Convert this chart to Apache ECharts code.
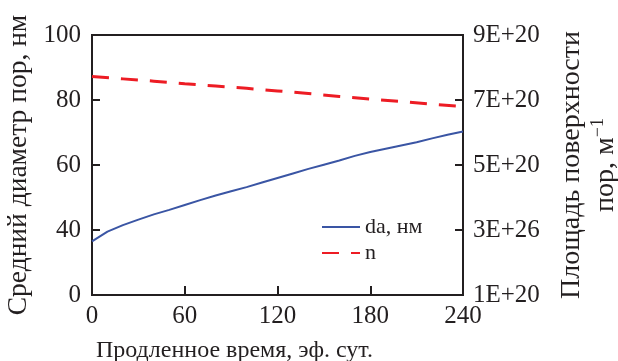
<!DOCTYPE html>
<html>
<head>
<meta charset="utf-8">
<script src="https://cdn.jsdelivr.net/npm/echarts@6/dist/echarts.min.js"></script>
<style>html,body{margin:0;padding:0;background:#fff}#c{width:618px;height:361px}</style>
</head>
<body>
<div id="c"></div>
<script>
var days = [0,10,20,30,40,50,60,70,80,90,100,110,120,130,140,150,160,170,180,190,200,210,220,230,240];
var daValues = [36.5,39.5,41.5,43.2,44.8,46.2,47.7,49.2,50.6,51.9,53.2,54.6,56.0,57.4,58.8,60.1,61.4,62.8,64.0,65.0,66.0,67.0,68.2,69.3,70.3];
var nDays = [0,20,40,60,80,100,120,140,160,180,200,220,240];
var nValues = [7.72e20,7.65e20,7.58e20,7.50e20,7.43e20,7.36e20,7.28e20,7.20e20,7.11e20,7.03e20,6.95e20,6.87e20,6.80e20];
var xTicks = [0,60,120,180,240];
var leftTickLabels = ['0','40','60','80','100'];
var rightTickLabels = ['1E+20','3E+26','5E+20','7E+20','9E+20'];

var ink = '#231f20';
var font = 'Liberation Serif';
var chart = echarts.init(document.getElementById('c'));
chart.setOption({
  animation: false,
  textStyle: {fontFamily: font, color: ink},
  grid: {left: 92, right: 155, top: 35, bottom: 66, show: true, borderColor: ink, borderWidth: 2,
    outerBoundsMode: 'none', containLabel: false},
  legend: {
    orient: 'vertical', left: 316, top: 211, itemWidth: 38, itemHeight: 14, itemGap: 4,
    itemStyle: {opacity: 0},
    textStyle: {fontFamily: font, fontSize: 22, lineHeight: 18, color: ink, padding: [0,0,0,0]},
    data: ['da, нм', 'n']
  },
  xAxis: {
    type: 'value', min: 0, max: 240, interval: 60,
    name: 'Продленное время, эф. сут.', nameLocation: 'middle', nameGap: 44,
    nameTextStyle: {fontFamily: font, fontSize: 24, color: ink, padding: [0, 86, 0, 0]},
    axisLine: {show: true, lineStyle: {color: ink, width: 2}},
    axisTick: {show: true, inside: true, length: 9, lineStyle: {color: ink, width: 2}},
    axisLabel: {fontFamily: font, fontSize: 25, color: ink, margin: 9},
    splitLine: {show: false}
  },
  yAxis: [{
    type: 'value', min: 20, max: 100, interval: 20, position: 'left',
    name: 'Средний диаметр пор, нм', nameLocation: 'middle', nameGap: 57, nameRotate: 90,
    nameTextStyle: {fontFamily: font, fontSize: 27.5, color: ink},
    axisLine: {show: true, lineStyle: {color: ink, width: 2}},
    axisTick: {show: true, inside: true, length: 8, lineStyle: {color: ink, width: 2}},
    axisLabel: {fontFamily: font, fontSize: 25, color: ink, margin: 11,
      formatter: function (v, i) { return leftTickLabels[i]; }},
    splitLine: {show: false}
  }, {
    type: 'value', min: 1e20, max: 9e20, interval: 2e20, position: 'right',
    name: 'Площадь поверхности\nпор, м{sup|−1}', nameLocation: 'middle', nameGap: 92, nameRotate: 90,
    nameTextStyle: {fontFamily: font, fontSize: 28, color: ink, lineHeight: 34, align: 'center',
      rich: {sup: {fontFamily: font, fontSize: 18, color: ink, verticalAlign: 'top', lineHeight: 34, padding: [0,0,8,0]}}},
    axisLine: {show: true, lineStyle: {color: ink, width: 2}},
    axisTick: {show: true, inside: true, length: 8, lineStyle: {color: ink, width: 2}},
    axisLabel: {fontFamily: font, fontSize: 25, color: ink, margin: 10,
      formatter: function (v, i) { return rightTickLabels[i]; }},
    splitLine: {show: false}
  }],
  series: [{
    name: 'da, нм', type: 'line', yAxisIndex: 0, symbol: 'none', smooth: false,
    lineStyle: {color: '#3a55a4', width: 2}, itemStyle: {color: '#3a55a4'},
    data: days.map(function (d, i) { return [d, daValues[i]]; })
  }, {
    name: 'n', type: 'line', yAxisIndex: 1, symbol: 'none',
    lineStyle: {color: '#ed1c24', width: 3, type: [17, 12]}, itemStyle: {color: '#ed1c24'},
    data: nDays.map(function (d, i) { return [d, nValues[i]]; })
  }]
});
</script>
</body>
</html>
